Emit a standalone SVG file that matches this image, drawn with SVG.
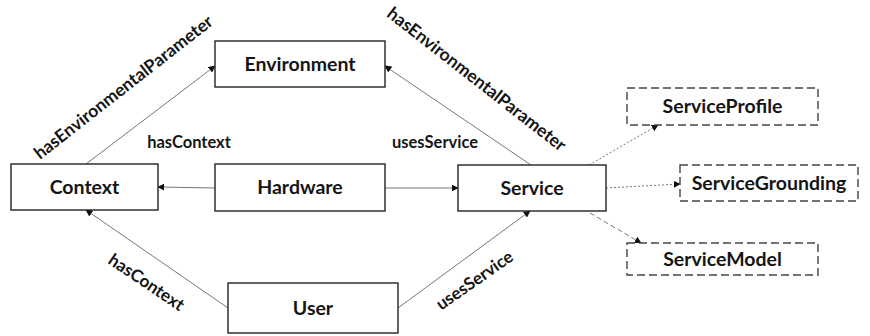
<svg xmlns="http://www.w3.org/2000/svg" width="870" height="336" viewBox="0 0 870 336">
  <defs>
    <marker id="arrow" viewBox="0 0 10 10" refX="9" refY="5" markerWidth="7" markerHeight="7" markerUnits="userSpaceOnUse" orient="auto">
      <path d="M0,0 L10,5 L0,10 Z" fill="#111"/>
    </marker>
    <style>
      .node rect { fill: #fff; stroke: #222; stroke-width: 1.4; }
      .node.opt rect { stroke: #444; stroke-dasharray: 8 4; }
      .node text { font-family: Lato, "Liberation Sans", sans-serif; font-weight: bold; font-size: 19.5px; fill: #151515; text-anchor: middle; }
      .edge { stroke: #777; stroke-width: 1; fill: none; marker-end: url(#arrow); }
      .dot { stroke-dasharray: 2 2; }
      .dash { stroke-dasharray: 5 3; }
      .lbl { font-family: Lato, "Liberation Sans", sans-serif; font-weight: bold; font-size: 16.5px; fill: #151515; text-anchor: middle; }
      .lbl.big { font-size: 17.6px; }
      .lbl.mid { font-size: 17.2px; }
    </style>
  </defs>

  <g id="connectors">
    <line class="edge" x1="86" y1="164" x2="215" y2="66"/>
    <line class="edge" x1="531" y1="165" x2="385" y2="66"/>
    <line class="edge" x1="215" y1="188" x2="158" y2="187"/>
    <line class="edge" x1="385" y1="188" x2="458" y2="188"/>
    <line class="edge" x1="228" y1="308" x2="86" y2="210"/>
    <line class="edge" x1="398" y1="308" x2="530" y2="211"/>
    <line class="edge dot" x1="589" y1="165" x2="658" y2="125"/>
    <line class="edge dot" x1="606" y1="188" x2="680" y2="184"/>
    <line class="edge dash" x1="590" y1="213" x2="641" y2="243"/>
  </g>

  <g id="labels">
    <text class="lbl big" transform="translate(124,88) rotate(-38)" x="0" y="5">hasEnvironmentalParameter</text>
    <text class="lbl big" transform="translate(476,80) rotate(38)" x="0" y="5">hasEnvironmentalParameter</text>
    <text class="lbl" x="189" y="148">hasContext</text>
    <text class="lbl" x="435" y="148">usesService</text>
    <text class="lbl mid" transform="translate(146,283) rotate(34)" x="0" y="5">hasContext</text>
    <text class="lbl mid" transform="translate(475,281) rotate(-35)" x="0" y="5">usesService</text>
  </g>

  <g id="environment" class="node">
    <rect x="215" y="41" width="170" height="46"/>
    <text x="300" y="71">Environment</text>
  </g>
  <g id="context" class="node">
    <rect x="11" y="164" width="147" height="46"/>
    <text x="84.5" y="194">Context</text>
  </g>
  <g id="hardware" class="node">
    <rect x="215" y="164" width="170" height="47"/>
    <text x="300" y="194">Hardware</text>
  </g>
  <g id="user" class="node">
    <rect x="228" y="283" width="170" height="50"/>
    <text x="313" y="315">User</text>
  </g>
  <g id="service" class="node">
    <rect x="458" y="165" width="148" height="46"/>
    <text x="532" y="195">Service</text>
  </g>
  <g id="serviceprofile" class="node opt">
    <rect x="627" y="88" width="191" height="37"/>
    <text x="722.5" y="113">ServiceProfile</text>
  </g>
  <g id="servicegrounding" class="node opt">
    <rect x="680" y="165" width="178" height="36"/>
    <text x="769" y="190">ServiceGrounding</text>
  </g>
  <g id="servicemodel" class="node opt">
    <rect x="627" y="243" width="191" height="32"/>
    <text x="722.5" y="266">ServiceModel</text>
  </g>
</svg>
